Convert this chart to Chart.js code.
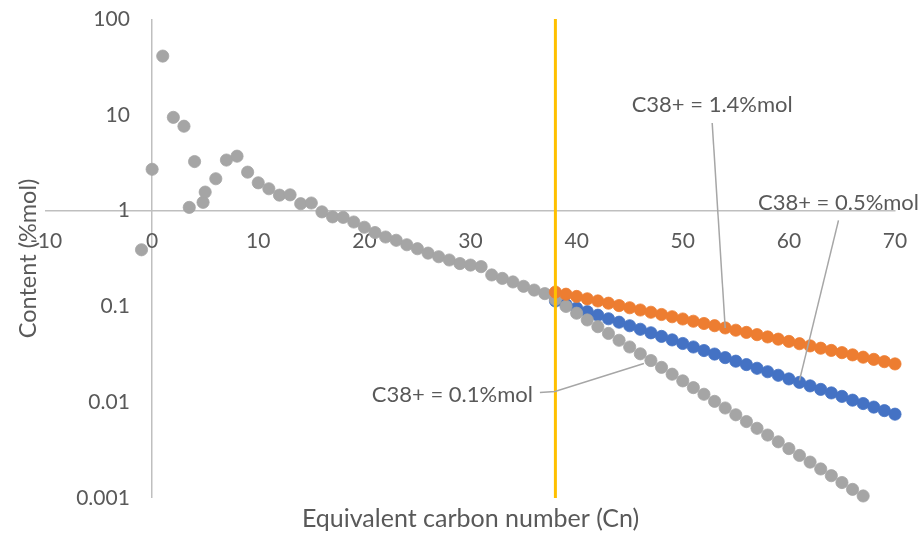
<!DOCTYPE html>
<html>
<head>
<meta charset="utf-8">
<script src="https://cdn.jsdelivr.net/npm/chart.js@4.4.1/dist/chart.umd.min.js"></script>
<style>
  html, body { margin: 0; padding: 0; background: #ffffff; }
  #wrap { width: 922px; height: 535px; }
</style>
</head>
<body>
<div id="wrap"><canvas id="chart" width="922" height="535"></canvas></div>
<script>
// Measured fluid composition by equivalent carbon number
const measuredCn = [-1, 0, 1, 2, 3, 3.5, 4, 4.8, 5, 6, 7, 8, 9, 10, 11, 12, 13, 14, 15, 16, 17, 18, 19, 20,
  21, 22, 23, 24, 25, 26, 27, 28, 29, 30, 31, 32, 33, 34, 35, 36, 37, 38];
const measuredContent = [0.39, 2.7, 41, 9.4, 7.6, 1.08, 3.25, 1.22, 1.56, 2.15, 3.37, 3.7, 2.52, 1.95, 1.69,
  1.45, 1.46, 1.18, 1.2, 0.97, 0.86, 0.85, 0.76, 0.67, 0.59, 0.53, 0.49, 0.44, 0.40, 0.36, 0.33, 0.305,
  0.28, 0.27, 0.26, 0.213, 0.196, 0.18, 0.162, 0.148, 0.136, 0.118];

// C38+ splits
const splitCn = [38, 39, 40, 41, 42, 43, 44, 45, 46, 47, 48, 49, 50, 51, 52, 53, 54, 55, 56, 57, 58, 59, 60,
  61, 62, 63, 64, 65, 66, 67, 68, 69, 70];
const split14 = [0.141, 0.134, 0.127, 0.120, 0.114, 0.108, 0.102, 0.0968, 0.0917, 0.0869, 0.0823, 0.0780,
  0.0739, 0.0700, 0.0663, 0.0629, 0.0596, 0.0564, 0.0535, 0.0507, 0.0480, 0.0455, 0.0431, 0.0408, 0.0387,
  0.0366, 0.0347, 0.0329, 0.0312, 0.0295, 0.0280, 0.0265, 0.0251];
const split05 = [0.114, 0.1045, 0.096, 0.0881, 0.0809, 0.0743, 0.0684, 0.0628, 0.0577, 0.0530, 0.0486,
  0.0447, 0.0410, 0.0377, 0.0346, 0.0318, 0.0292, 0.0268, 0.0247, 0.0226, 0.0208, 0.0191, 0.0175, 0.0161,
  0.0148, 0.0136, 0.0125, 0.0115, 0.0105, 0.00968, 0.00889, 0.00817, 0.0075];
const split01Cn = [39, 40, 41, 42, 43, 44, 45, 46, 47, 48, 49, 50, 51, 52, 53, 54, 55, 56, 57, 58, 59, 60,
  61, 62, 63, 64, 65, 66, 67];
const split01 = [0.100, 0.0849, 0.0722, 0.0614, 0.0522, 0.0443, 0.0377, 0.0320, 0.0272, 0.0231, 0.0196,
  0.0167, 0.0142, 0.0121, 0.0102, 0.0087, 0.00739, 0.00628, 0.00534, 0.00454, 0.00386, 0.00328, 0.00278,
  0.00237, 0.00201, 0.00171, 0.00145, 0.00123, 0.00105];

// Plus-fraction cut at C38
const cutCn = [38, 38];
const cutContent = [0.001, 100];

// Axis ticks
const xTickValues = [-10, 0, 10, 20, 30, 40, 50, 60, 70];
const xTickLabels = ['-10', '0', '10', '20', '30', '40', '50', '60', '70'];
const yTickValues = [0.001, 0.01, 0.1, 1, 10, 100];
const yTickLabels = ['0.001', '0.01', '0.1', '1', '10', '100'];

const calloutTexts = ['C38+ = 1.4%mol', 'C38+ = 0.5%mol', 'C38+ = 0.1%mol'];

const toPoints = (xs, ys) => xs.map((x, i) => ({ x: x, y: ys[i] }));

const GREY = '#A5A5A5';
const ORANGE = '#ED7D31';
const BLUE = '#4472C4';
const GOLD = '#FFC000';
const TEXT = '#595959';
const AXIS = '#BFBFBF';
const FONT = 'Lato';
// x value where the log-axis labels are anchored, so they sit a little left of the Cn = 0 line
const Y_LABEL_ANCHOR = -2.1;

function markerSet(label, data, color) {
  return {
    label: label, data: data, xAxisID: 'x', yAxisID: 'y',
    showLine: false, pointRadius: 6.1, pointHoverRadius: 6.1, pointBorderWidth: 0.8,
    backgroundColor: color, borderColor: color, clip: false
  };
}

// Data callouts with leader lines (offsets in px from the referenced point)
const callouts = [
  { ds: 1, idx: 16, text: calloutTexts[0], align: 'center', tx: -13, ty: -223, path: [[-13, -205], [0, 0]] },
  { ds: 4, idx: 23, text: calloutTexts[1], align: 'center', tx: 39, ty: -179, path: [[39, -162], [0, -2]] },
  { ds: 2, idx: 8, text: calloutTexts[2], align: 'right', tx: -118, ty: 34, path: [[-111, 32], [-96, 31], [-7, 3]] }
];

const calloutPlugin = {
  id: 'callouts',
  afterDatasetsDraw(chart) {
    const ctx = chart.ctx;
    ctx.save();
    callouts.forEach(c => {
      const el = chart.getDatasetMeta(c.ds).data[c.idx];
      if (!el) return;
      const px = el.x, py = el.y;
      ctx.strokeStyle = '#A6A6A6';
      ctx.lineWidth = 1.5;
      ctx.beginPath();
      c.path.forEach((p, i) => {
        if (i === 0) ctx.moveTo(px + p[0], py + p[1]);
        else ctx.lineTo(px + p[0], py + p[1]);
      });
      ctx.stroke();
      ctx.fillStyle = TEXT;
      ctx.font = '22px ' + FONT;
      ctx.textAlign = c.align;
      ctx.textBaseline = 'middle';
      ctx.fillText(c.text, px + c.tx, py + c.ty);
    });
    ctx.restore();
  }
};

new Chart(document.getElementById('chart'), {
  type: 'scatter',
  data: {
    datasets: [
      {
        label: 'C38', data: toPoints(cutCn, cutContent), xAxisID: 'x', yAxisID: 'y',
        showLine: true, pointRadius: 0, pointHoverRadius: 0, borderColor: GOLD, borderWidth: 3, clip: false
      },
      markerSet('C38+ = 1.4%mol', toPoints(splitCn, split14), ORANGE),
      markerSet('C38+ = 0.1%mol', toPoints(split01Cn, split01), GREY),
      markerSet('Measured', toPoints(measuredCn, measuredContent), GREY),
      markerSet('C38+ = 0.5%mol', toPoints(splitCn, split05), BLUE)
    ]
  },
  options: {
    responsive: false,
    animation: false,
    events: [],
    layout: { padding: { left: 10, right: 27, top: 19, bottom: 0 } },
    plugins: { legend: { display: false }, tooltip: { enabled: false } },
    scales: {
      x: {
        type: 'linear', min: -10, max: 70, position: { y: 1 },
        afterBuildTicks: s => { s.ticks = xTickValues.map(v => ({ value: v })); },
        ticks: {
          padding: 10, color: TEXT, font: { family: FONT, size: 21, lineHeight: 2 },
          maxRotation: 0, autoSkip: false,
          callback: (v, i) => xTickLabels[i]
        },
        // only the Cn = 0 line is drawn, as the vertical axis line
        grid: {
          display: true, drawTicks: false, drawOnChartArea: true, lineWidth: 1.5,
          color: c => (c.tick && c.tick.value === 0 ? AXIS : 'rgba(0,0,0,0)')
        },
        border: { display: true, color: AXIS, width: 1.5 }
      },
      y: {
        type: 'logarithmic', min: 0.001, max: 100, position: { x: Y_LABEL_ANCHOR },
        afterBuildTicks: s => { s.ticks = yTickValues.map(v => ({ value: v })); },
        ticks: {
          padding: 0, color: TEXT, font: { family: FONT, size: 21 }, autoSkip: false,
          callback: (v, i) => yTickLabels[i]
        },
        grid: { display: false, drawTicks: false },
        border: { display: false }
      },
      xTitle: {
        type: 'linear', position: 'bottom', min: 0, max: 1,
        ticks: { display: false }, grid: { display: false, drawTicks: false }, border: { display: false },
        title: {
          display: true, text: 'Equivalent carbon number (Cn)', color: TEXT,
          font: { family: FONT, size: 25 }, padding: { top: 6, bottom: 1 }
        }
      },
      yTitle: {
        type: 'linear', position: 'left', min: 0, max: 1,
        ticks: { display: false }, grid: { display: false, drawTicks: false }, border: { display: false },
        title: {
          display: true, text: 'Content (%mol)', color: TEXT,
          font: { family: FONT, size: 23.5 }, padding: { top: 3.9, bottom: 3.9 }
        }
      }
    }
  },
  plugins: [calloutPlugin]
});
</script>
</body>
</html>
